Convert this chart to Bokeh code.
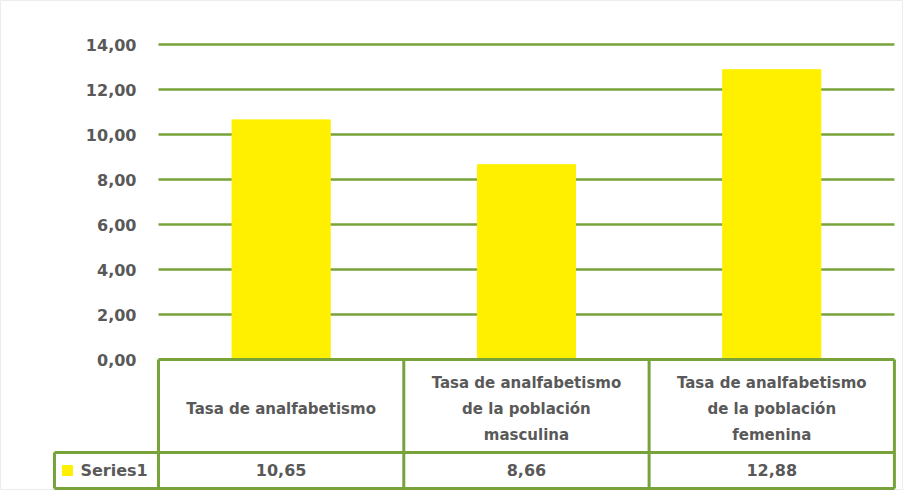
from bokeh.plotting import figure
from bokeh.models import Range1d
from bokeh.embed import file_html
from bokeh.resources import INLINE
from bokeh.core.properties import value

# ---- data ----
categories = [
    "Tasa de analfabetismo",
    "Tasa de analfabetismo\nde la población\nmasculina",
    "Tasa de analfabetismo\nde la población\nfemenina",
]
values = [10.65, 8.66, 12.88]
value_labels = ["10,65", "8,66", "12,88"]
series_name = "Series1"
y_ticks = [0, 2, 4, 6, 8, 10, 12, 14]
y_tick_labels = ["0,00", "2,00", "4,00", "6,00", "8,00", "10,00", "12,00", "14,00"]

# ---- styling / layout ----
FONT = value("DejaVu Sans")
TXT = "#595959"
GREEN = "#77a33a"
YELLOW = "#FFF000"
HDR_BOTTOM = -4.133
ROW_BOTTOM = -5.733
LEG_LEFT = -0.424

n = len(categories)
xs = [i + 0.5 for i in range(n)]

p = figure(width=903, height=490,
           x_range=Range1d(-0.644, 3.037), y_range=Range1d(-5.822, 15.956),
           output_backend="svg", toolbar_location=None,
           x_axis_location=None, y_axis_location=None, min_border=0)
p.grid.visible = False
p.outline_line_color = "#ececec"
p.background_fill_color = "white"

# gridlines
grid_y = [t for t in y_ticks if t > 0]
p.segment(x0=[0] * len(grid_y), x1=[n] * len(grid_y), y0=grid_y, y1=grid_y,
          line_color=GREEN, line_width=2.5)

# bars
p.vbar(x=xs, top=values, bottom=0, width=0.4, fill_color=YELLOW, line_color=YELLOW)

# y tick labels
p.text(x=[0] * len(y_ticks), y=y_ticks, text=y_tick_labels, x_offset=-22,
       text_align="right", text_baseline="middle", text_font=FONT,
       text_font_style="bold", text_font_size="16px", text_color=TXT)

# data table lines
hx0 = [0, LEG_LEFT, LEG_LEFT]
hx1 = [n, n, n]
hy = [0, HDR_BOTTOM, ROW_BOTTOM]
p.segment(x0=hx0, x1=hx1, y0=hy, y1=hy, line_color=GREEN, line_width=3)
vx = list(range(n + 1)) + [LEG_LEFT]
vy0 = [0] * (n + 1) + [HDR_BOTTOM]
vy1 = [ROW_BOTTOM] * (n + 2)
p.segment(x0=vx, x1=vx, y0=vy0, y1=vy1, line_color=GREEN, line_width=3)

# category labels
p.text(x=xs, y=[HDR_BOTTOM / 2 - 0.15] * n, text=categories, text_align="center",
       text_baseline="middle", text_font=FONT, text_font_style="bold",
       text_font_size="15px", text_color=TXT, text_line_height=1.45)

# value labels
row_mid = (HDR_BOTTOM + ROW_BOTTOM) / 2
p.text(x=xs, y=[row_mid] * n, text=value_labels, text_align="center",
       text_baseline="middle", text_font=FONT, text_font_style="bold",
       text_font_size="16px", text_color=TXT)

# legend key
p.scatter(x=[-0.371], y=[row_mid], marker="square", size=10,
          fill_color=YELLOW, line_color=YELLOW)
p.text(x=[-0.318], y=[row_mid], text=[series_name], text_align="left",
       text_baseline="middle", text_font=FONT, text_font_style="bold",
       text_font_size="16px", text_color=TXT)

open("out.html", "w").write(file_html(p, INLINE))
